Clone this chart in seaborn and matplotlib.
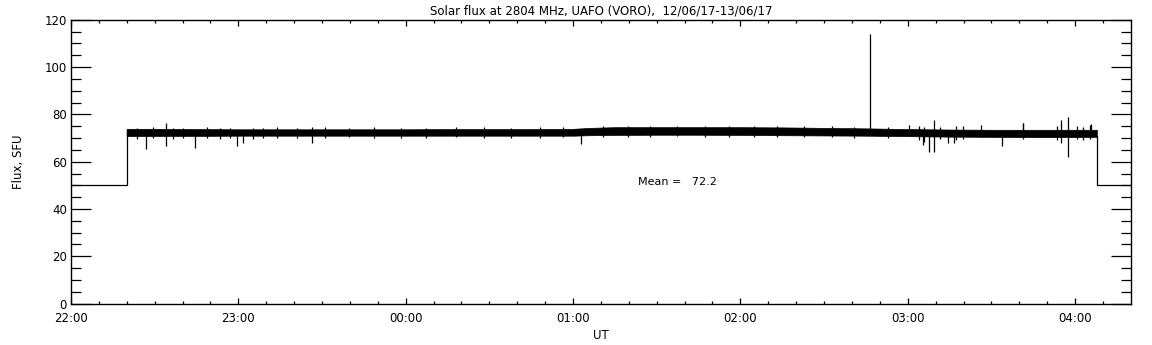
import numpy as np
import pandas as pd
import matplotlib
matplotlib.use("Agg")
import matplotlib.pyplot as plt
import seaborn as sns
from matplotlib.ticker import MultipleLocator, FixedLocator


# hours since 22:00 UT on 12/06/17
hour_labels = ["22:00", "23:00", "00:00", "01:00", "02:00", "03:00", "04:00"]

# filler level outside the observation window
gap_start_t = [0.0, 0.333, 0.333]
gap_start_f = [50, 50, 73.5]
gap_end_t = [6.13, 6.13, 6.333]
gap_end_f = [71.0, 50, 50]

# envelope of the noisy flux record
band_t = [0.333, 0.5, 0.75, 1.0, 1.25, 1.5, 1.75, 2.0, 2.25, 2.5, 2.75, 3.0, 3.1,
          3.25, 3.5, 3.75, 4.0, 4.25, 4.5, 4.75, 5.0, 5.25, 5.5, 5.75, 6.0, 6.13]
band_lo = [70.8, 70.9, 70.9, 71.0, 71.0, 71.0, 71.0, 71.0, 71.0, 71.0, 71.0, 71.0, 71.2,
           71.3, 71.4, 71.4, 71.3, 71.2, 71.1, 71.0, 70.8, 70.6, 70.5, 70.4, 70.4, 70.5]
band_hi = [73.9, 73.9, 73.8, 73.7, 73.7, 73.7, 73.7, 73.7, 73.8, 73.8, 73.8, 73.9, 74.3,
           74.6, 74.6, 74.6, 74.6, 74.5, 74.3, 74.1, 73.8, 73.6, 73.5, 73.5, 73.5, 73.5]

# individual spikes: time, lowest, highest
spike_t = [0.45, 0.57, 0.743, 0.994, 1.03, 1.438, 3.05, 4.773, 5.006, 5.09, 5.125,
           5.157, 5.24, 5.277, 5.563, 5.687, 5.917, 5.958, 6.097,
           0.392, 0.492, 0.611, 0.671, 0.81, 0.89, 0.95, 1.089, 1.149, 1.229,
           5.07, 5.10, 5.19, 5.29, 5.33, 5.44, 5.69, 5.89, 6.01, 6.05, 6.09,
           1.35, 1.52, 1.66, 1.81, 1.97, 2.12, 2.30, 2.47, 2.63, 2.80, 2.94,
           3.18, 3.33, 3.46, 3.62, 3.79, 3.93, 4.08, 4.22, 4.38, 4.55, 4.68, 4.88]
spike_lo = [65.4, 66.8, 65.8, 66.8, 68.0, 67.8, 67.5, 72.0, 71.0, 67.0, 64.2,
            64.2, 68.0, 67.8, 66.8, 71.0, 67.8, 62.1, 71.0,
            69.8, 70.0, 69.6, 70.2, 69.9, 69.7, 70.0, 69.8, 70.1, 69.9,
            69.0, 68.5, 69.5, 69.2, 69.8, 70.5, 69.5, 69.0, 69.6, 69.3, 69.8,
            70.2, 70.0, 70.3, 70.1, 70.2, 69.9, 70.3, 70.1, 70.2, 70.0, 70.3,
            70.5, 70.6, 70.4, 70.7, 70.5, 70.6, 70.4, 70.5, 70.3, 70.4, 70.2, 70.0]
spike_hi = [72.0, 76.5, 72.0, 72.0, 72.0, 74.7, 72.0, 114.0, 75.5, 72.0, 72.0,
            77.6, 72.0, 72.0, 72.0, 76.5, 77.6, 79.0, 75.9,
            74.4, 74.6, 74.2, 74.3, 74.5, 74.2, 74.3, 74.4, 74.2, 74.5,
            75.0, 74.8, 74.6, 75.2, 74.9, 75.6, 76.5, 74.9, 75.1, 74.7, 75.4,
            74.4, 74.5, 74.3, 74.6, 74.4, 74.3, 74.6, 74.5, 74.4, 74.7, 74.6,
            75.0, 75.2, 75.1, 75.3, 75.0, 75.2, 75.1, 75.3, 74.9, 75.0, 74.8, 74.6]

mean_flux = 72.2

fig = plt.figure(figsize=(11.52, 3.45), dpi=100)
sns.set_style("white")
plt.rcParams['font.family'] = ['DejaVu Sans']
for key in ["text.color", "axes.labelcolor", "xtick.color", "ytick.color"]:
    plt.rcParams[key] = "black"
ax = fig.add_axes([0.0616, 0.12, 0.92, 0.8226])

lw = 0.9
sns.lineplot(x=gap_start_t, y=gap_start_f, sort=False, estimator=None,
             color="black", linewidth=lw, ax=ax)
sns.lineplot(x=gap_end_t, y=gap_end_f, sort=False, estimator=None,
             color="black", linewidth=lw, ax=ax)
ax.fill_between(band_t, band_lo, band_hi, color="black", linewidth=0.5)
ax.vlines(spike_t, spike_lo, spike_hi, color="black", linewidth=lw)

ax.text(3.387, 51.4, "Mean =   %.1f" % mean_flux, fontsize=8, va="center",
        ha="left", color="black")

ax.set_xlim(0, 6.333)
ax.set_ylim(0, 120)
ax.xaxis.set_major_locator(FixedLocator(range(len(hour_labels))))
ax.set_xticklabels(hour_labels)
ax.xaxis.set_minor_locator(MultipleLocator(1 / 6))
ax.yaxis.set_major_locator(MultipleLocator(20))
ax.yaxis.set_minor_locator(MultipleLocator(5))

for s in ax.spines.values():
    s.set_visible(True)
    s.set_color("black")
    s.set_linewidth(1.0)

ax.tick_params(axis="y", which="major", direction="in", length=14.4, width=0.9,
               left=True, right=True, labelsize=8.5, pad=3, colors="black")
ax.tick_params(axis="y", which="minor", direction="in", length=7.2, width=0.9,
               left=True, right=True, colors="black")
ax.tick_params(axis="x", which="major", direction="in", length=4.2, width=0.9,
               bottom=True, top=True, labelsize=8.5, pad=6, colors="black")
ax.tick_params(axis="x", which="minor", direction="in", length=2.2, width=0.9,
               bottom=True, top=True, colors="black")

ax.set_xlabel("UT", fontsize=8.5, labelpad=3, color="black")
ax.set_ylabel("Flux, SFU", fontsize=8.5, labelpad=14, color="black")
ax.set_title("Solar flux at 2804 MHz, UAFO (VORO),  12/06/17-13/06/17",
             fontsize=8.5, pad=4, color="black")

fig.savefig("out.png", dpi=100)
